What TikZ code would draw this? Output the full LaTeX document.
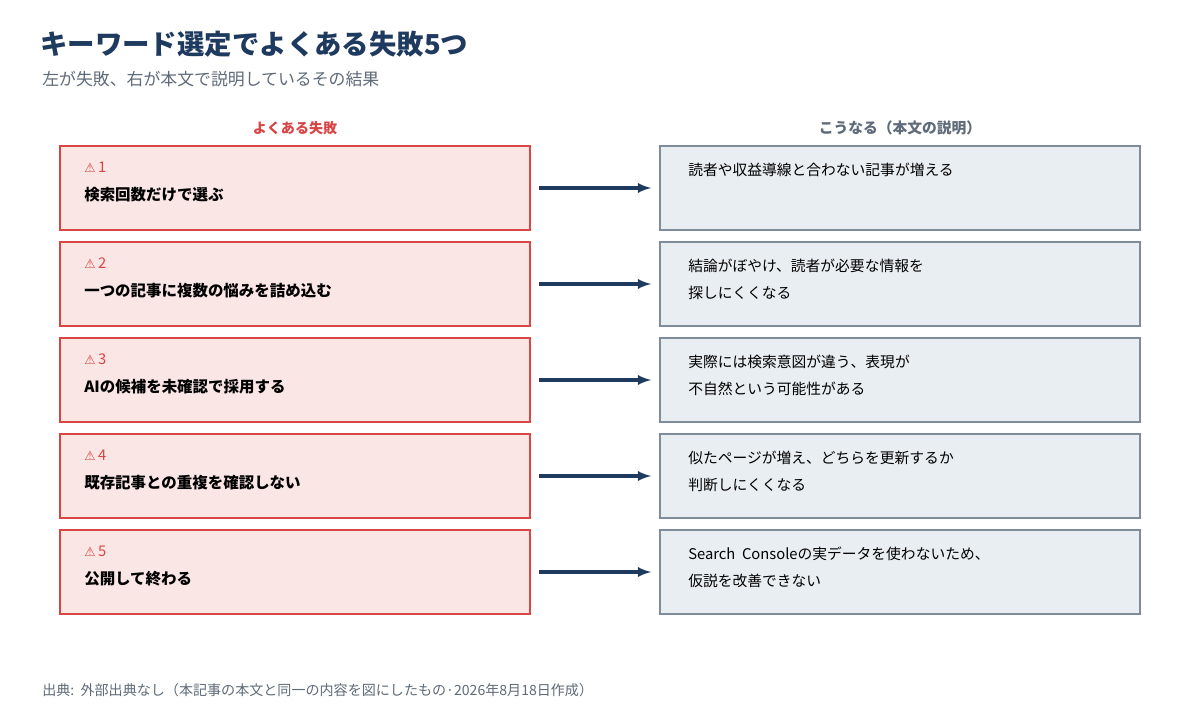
\documentclass[tikz,border=0pt]{standalone}
\usepackage{fontspec}
\setmainfont{Noto Sans CJK JP}
\newfontfamily\symfont{DejaVu Sans}
\usetikzlibrary{positioning}
\definecolor{navy}{HTML}{1F3A5F}
\definecolor{failred}{HTML}{D94545}
\definecolor{failfill}{HTML}{FBE6E6}
\definecolor{resline}{HTML}{7F8C99}
\definecolor{resfill}{HTML}{E9EEF2}
\definecolor{subgray}{HTML}{5F6B78}
\tikzset{
  fail/.style={draw=failred, fill=failfill, line width=1.2pt, minimum width=11.75cm, minimum height=2.1cm},
  result/.style={draw=resline, fill=resfill, line width=1.2pt, minimum width=12cm, minimum height=2.1cm},
  link/.style={->, >=latex, navy, line width=2.2pt},
  body/.style={anchor=west, font=\fontsize{10.5}{19}\selectfont, align=left, inner sep=0pt}
}
\begin{document}
\begin{tikzpicture}[x=0.025cm, y=-0.025cm]
  \useasboundingbox[fill=white] (0,0) rectangle (1200,720);
  \node[anchor=west, inner sep=0pt, navy, font=\fontsize{19.5}{24}\bfseries\selectfont] (title) at (40,44) {キーワード選定でよくある失敗5つ};
  \node[anchor=west, inner sep=0pt, subgray, font=\fontsize{12}{14}\selectfont] (sub) at (42,79) {左が失敗、右が本文で説明しているその結果};
  \node[failred, font=\fontsize{10}{12}\bfseries\selectfont] (hl) at (295,128) {よくある失敗};
  \node[subgray, font=\fontsize{10.5}{12}\bfseries\selectfont] (hr) at (900,128) {こうなる（本文の説明）};
  % five rows
  \foreach \i/\fail in {1/検索回数だけで選ぶ, 2/一つの記事に複数の悩みを詰め込む,
    3/AIの候補を未確認で採用する, 4/既存記事との重複を確認しない, 5/公開して終わる} {
    \pgfmathsetmacro{\yc}{188+96*(\i-1)}
    \node[fail] (f\i) at (295,\yc) {};
    \node[result] (r\i) at (900,\yc) {};
    \node[body, failred] (n\i) at (84,\yc-21) {{\symfont\fontsize{9}{10}\selectfont ⚠}\,\i};
    \node[body, font=\fontsize{11}{12}\bfseries\selectfont] (t\i) at (84,\yc+7) {\fail};
    \draw[link] ([xshift=0.2cm]f\i.east) -- ([xshift=-0.2cm]r\i.west);
  }
  \node[body, anchor=north west] (x1) at (688,163) {読者や収益導線と合わない記事が増える};
  \node[body, anchor=north west] (x2) at (688,259) {結論がぼやけ、読者が必要な情報を\\探しにくくなる};
  \node[body, anchor=north west] (x3) at (688,355) {実際には検索意図が違う、表現が\\不自然という可能性がある};
  \node[body, anchor=north west] (x4) at (688,451) {似たページが増え、どちらを更新するか\\判断しにくくなる};
  \node[body, anchor=north west] (x5) at (688,547) {Search\ \ Consoleの実データを使わないため、\\仮説を改善できない};
  \node[anchor=west, inner sep=0pt, subgray, font=\fontsize{10}{12}\selectfont] (src) at (42,690) {出典:\ \ 外部出典なし（本記事の本文と同一の内容を図にしたもの·2026年8月18日作成）};
\end{tikzpicture}
\end{document}
